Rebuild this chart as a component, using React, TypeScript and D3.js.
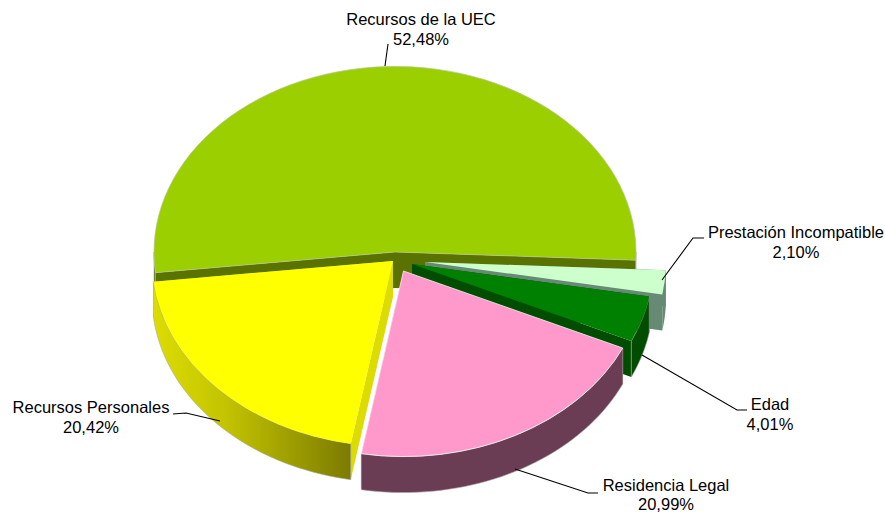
import React from 'react';
import * as d3 from 'd3';

const categories = ['Recursos de la UEC', 'Prestación Incompatible', 'Edad', 'Residencia Legal', 'Recursos Personales'];
const values = [52.48, 2.1, 4.01, 20.99, 20.42];
const valueLabels = ['52,48%', '2,10%', '4,01%', '20,99%', '20,42%'];
const topColors = ['#9ccf00', '#ccffcc', '#008000', '#ff99cc', '#ffff00'];
const wallColors = ['#5a7200', '#668a74', '#004d00', '#6b3d55', '#dcdc00'];

const width = 885;
const height = 513;
const cx = 395;
const cy = 252;
const R = 241;
const squash = 0.77;
const depth = 36;
const startDeg = 263.6;

// how far each slice is pulled out of the pie
const explode = [[0, 0], [30, 10], [17, 12], [8.5, 19], [-2, 9]];

// label layout: text position, then the leader line
const labelPos = [[421, 25], [796, 238], [770, 410], [666, 490.5], [91, 413]];
const leaders = [
  [[388, 44], [385, 66]],
  [[662, 280], [693, 238], [704, 238]],
  [[642, 355], [737, 410], [747, 410]],
  [[515, 469], [588, 493], [598, 493]],
  [[220, 421], [186, 413], [173, 414]],
];

const pieAngles = d3.pie<number>()
  .sort(null)
  .startAngle((startDeg * Math.PI) / 180)
  .endAngle((startDeg * Math.PI) / 180 + 2 * Math.PI)(values);

const arcGen = d3.arc<any>().innerRadius(0).outerRadius(R);
const line = d3.line();

// d3 angle (0 at top, clockwise) to a point on the squashed circle
const pt = (a: number, ox: number, oy: number, down = 0): [number, number] => [
  cx + ox + R * Math.sin(a),
  cy + oy - R * squash * Math.cos(a) + down,
];

const cutFace = (a: number, ox: number, oy: number) =>
  line([
    [cx + ox, cy + oy],
    pt(a, ox, oy),
    pt(a, ox, oy, depth),
    [cx + ox, cy + oy + depth],
  ]) + 'Z';

// side of the pie, only the part that faces the viewer
const outerWall = (a0: number, a1: number, ox: number, oy: number) => {
  const ranges = [[Math.PI / 2, (3 * Math.PI) / 2], [(5 * Math.PI) / 2, (7 * Math.PI) / 2]];
  const paths: string[] = [];
  ranges.forEach(([lo, hi]) => {
    const s = Math.max(a0, lo);
    const e = Math.min(a1, hi);
    if (e <= s) return;
    const steps = d3.range(0, 41).map((i) => s + ((e - s) * i) / 40);
    const top = steps.map((a) => pt(a, ox, oy));
    const bottom = steps.slice().reverse().map((a) => pt(a, ox, oy, depth));
    paths.push(line([...top, ...bottom]) + 'Z');
  });
  return paths.join(' ');
};

const drawOrder = [0, 1, 2, 4, 3];

export default function App() {
  return (
    <svg
      width={width}
      height={height}
      viewBox={`0 0 ${width} ${height}`}
      style={{ position: 'absolute', left: 0, top: 0, fontFamily: '"Liberation Sans", Arial, sans-serif' }}
    >
      <defs>
        <linearGradient id="yellowWall" gradientUnits="userSpaceOnUse" x1="155" y1="0" x2="353" y2="0">
          <stop offset="0" stopColor="#dcdc00" />
          <stop offset="0.35" stopColor="#c4c400" />
          <stop offset="1" stopColor="#7a7a00" />
        </linearGradient>
      </defs>
      {drawOrder.map((i) => {
        const d = pieAngles[i];
        const [ox, oy] = explode[i];
        const wallFill = i === 4 ? 'url(#yellowWall)' : wallColors[i];
        return (
          <g key={categories[i]}>
            <path d={cutFace(d.startAngle, ox, oy)} fill={wallColors[i]} />
            <path d={cutFace(d.endAngle, ox, oy)} fill={wallColors[i]} />
            <path
              d={outerWall(d.startAngle, d.endAngle, ox, oy)}
              fill={wallFill}
              stroke={i === 1 ? 'none' : '#a8a8a8'}
              strokeWidth={0.6}
            />
            <g transform={`translate(${cx + ox},${cy + oy}) scale(1,${squash})`}>
              <path
                d={arcGen(d) as string}
                fill={topColors[i]}
                stroke={i === 3 ? '#ffffff' : i === 0 ? '#b4c49a' : 'none'}
                strokeWidth={0.8}
              />
            </g>
          </g>
        );
      })}
      {leaders.map((pts, i) => (
        <path key={i} d={line(pts as [number, number][]) as string} fill="none" stroke="#000" strokeWidth={1.1} />
      ))}
      {categories.map((c, i) => (
        <text key={c} x={labelPos[i][0]} y={labelPos[i][1]} textAnchor="middle" fontSize={16.5} fill="#000">
          <tspan x={labelPos[i][0]}>{c}</tspan>
          <tspan x={labelPos[i][0]} dy={19.5}>{valueLabels[i]}</tspan>
        </text>
      ))}
    </svg>
  );
}
